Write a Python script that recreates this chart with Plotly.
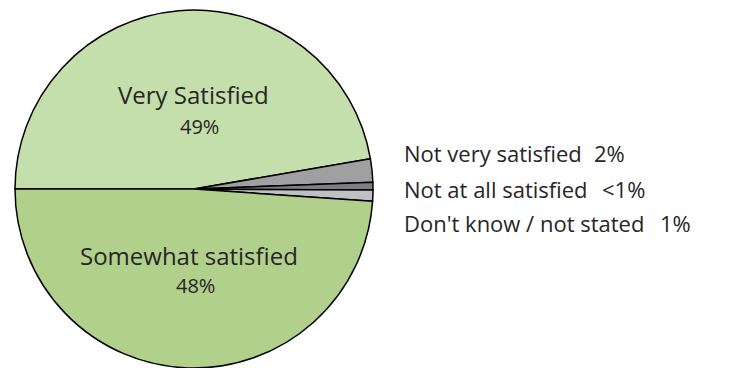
import plotly.graph_objects as go

categories = ["Very Satisfied", "Not very satisfied", "Not at all satisfied",
              "Don't know / not stated", "Somewhat satisfied"]
values = [47.3, 2.1, 0.7, 1.0, 48.9]
label_pcts = ["49%", "2%", "<1%", "1%", "48%"]
colors = ["#c4dfab", "#a0a0a2", "#7f7f81", "#c0c0c4", "#b0d08b"]

W, H = 735, 368
fig = go.Figure(go.Pie(
    labels=categories, values=values, sort=False, direction="clockwise",
    rotation=270, textinfo="none", hoverinfo="label+percent",
    marker=dict(colors=colors, line=dict(color="#000000", width=1.5)),
    domain=dict(x=[14/W, 374/W], y=[0, 1 - 10/H]),
    showlegend=False,
))

font_family = "Open Sans, Noto Sans, sans-serif"
txt = "#262626"

def px(x, y):
    return x / W, 1 - y / H

annotations = []
# labels inside the pie: (text, x, y, size)
inside = [
    (categories[0], 193, 94, 24),
    (label_pcts[0], 199, 127, 20),
    (categories[4], 189, 255, 24),
    (label_pcts[4], 195, 285, 20),
]
for t, x, y, s in inside:
    ax, ay = px(x, y)
    annotations.append(dict(x=ax, y=ay, xref="paper", yref="paper", text=t,
                            showarrow=False, xanchor="center", yanchor="middle",
                            font=dict(family=font_family, size=s, color=txt)))
# labels to the right: (index, y, x of percent)
right = [(1, 153, 592), (2, 188.5, 600), (3, 223, 658)]
for i, y, xp in right:
    ax, ay = px(402, y)
    annotations.append(dict(x=ax, y=ay, xref="paper", yref="paper", text=categories[i],
                            showarrow=False, xanchor="left", yanchor="middle",
                            font=dict(family=font_family, size=22, color=txt)))
    ax, ay = px(xp, y)
    annotations.append(dict(x=ax, y=ay, xref="paper", yref="paper", text=label_pcts[i],
                            showarrow=False, xanchor="left", yanchor="middle",
                            font=dict(family=font_family, size=22, color=txt)))

fig.update_layout(width=W, height=H, margin=dict(l=0, r=0, t=0, b=0),
                  paper_bgcolor="white", plot_bgcolor="white", annotations=annotations)
fig.write_html("out.html", config={"displayModeBar": False},
               post_script="document.body.style.margin='0';")
